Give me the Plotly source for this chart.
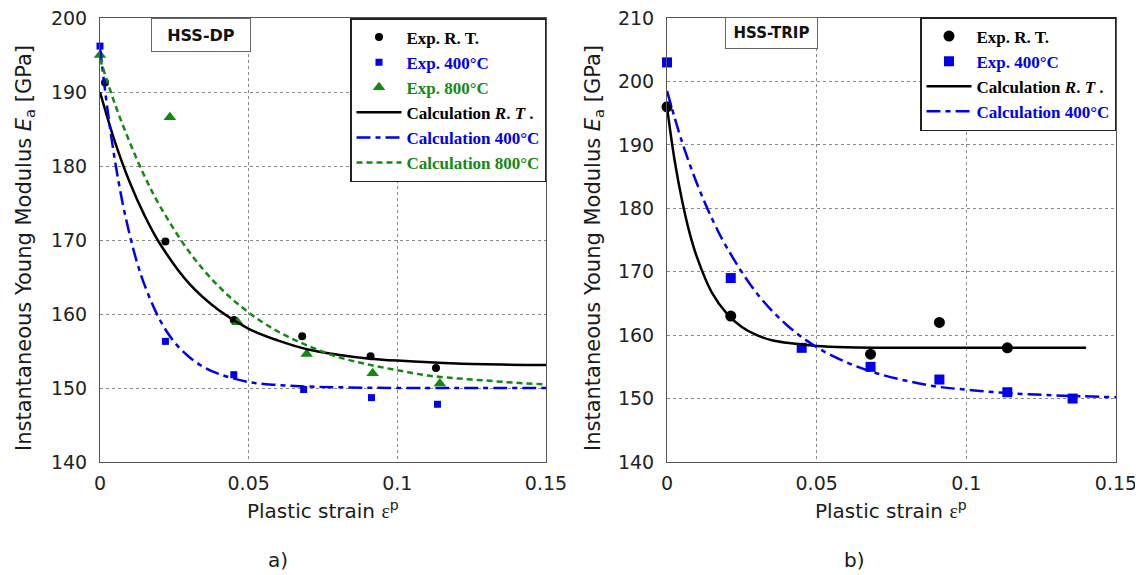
import plotly.graph_objects as go

# ---------------- data: panel a) HSS-DP ----------------
dp_rt_x = [0.0017, 0.022, 0.045, 0.068, 0.091, 0.113]
dp_rt_y = [191.3, 169.8, 159.2, 157.0, 154.3, 152.7]
dp_400_x = [0.0, 0.022, 0.045, 0.0685, 0.0913, 0.1135]
dp_400_y = [196.2, 156.3, 151.8, 149.8, 148.7, 147.8]
dp_800_x = [0.0, 0.0235, 0.0463, 0.0695, 0.0917, 0.1143]
dp_800_y = [195.0, 186.6, 158.9, 154.6, 152.0, 150.6]

dp_calc_rt_x = [0, 0.005, 0.01, 0.015, 0.02, 0.03, 0.04, 0.05, 0.06, 0.07, 0.08, 0.09, 0.10, 0.12, 0.15]
dp_calc_rt_y = [190.0, 183.3, 177.8, 173.3, 169.6, 164.1, 160.5, 158.0, 156.4, 155.2, 154.5, 154.0, 153.7, 153.3, 153.1]
dp_calc_400_x = [0, 0.0025, 0.005, 0.0075, 0.01, 0.0125, 0.015, 0.02, 0.025, 0.03, 0.035, 0.04, 0.05, 0.06, 0.07, 0.08, 0.10, 0.15]
dp_calc_400_y = [196.0, 187.7, 180.8, 175.2, 170.7, 166.9, 163.9, 159.3, 156.2, 154.2, 152.8, 151.9, 150.8, 150.4, 150.2, 150.1, 150.0, 150.0]
dp_calc_800_x = [0, 0.005, 0.01, 0.015, 0.02, 0.03, 0.04, 0.05, 0.06, 0.07, 0.08, 0.09, 0.10, 0.11, 0.12, 0.13, 0.14, 0.15]
dp_calc_800_y = [194.5, 188.4, 183.2, 178.6, 174.7, 168.4, 163.7, 160.2, 157.6, 155.7, 154.2, 153.2, 152.4, 151.7, 151.3, 151.0, 150.7, 150.5]

# ---------------- data: panel b) HSS-TRIP ----------------
trip_rt_x = [0.0, 0.0213, 0.068, 0.091, 0.1137]
trip_rt_y = [196.0, 163.0, 157.0, 162.0, 158.0]
trip_400_x = [0.0, 0.0213, 0.045, 0.068, 0.091, 0.1137, 0.1355]
trip_400_y = [203.0, 169.0, 158.0, 155.0, 153.0, 151.0, 150.0]

trip_calc_rt_x = [0, 0.0025, 0.005, 0.0075, 0.01, 0.015, 0.02, 0.025, 0.03, 0.035, 0.04, 0.05, 0.06, 0.08, 0.10, 0.12, 0.14]
trip_calc_rt_y = [196.0, 187.7, 181.3, 176.2, 172.3, 166.7, 163.4, 161.3, 160.0, 159.2, 158.8, 158.3, 158.1, 158.0, 158.0, 158.0, 158.0]
trip_calc_400_x = [0, 0.005, 0.01, 0.015, 0.02, 0.03, 0.04, 0.05, 0.06, 0.07, 0.08, 0.09, 0.10, 0.11, 0.12, 0.13, 0.15]
trip_calc_400_y = [198.5, 190.5, 183.9, 178.4, 173.8, 166.6, 161.6, 158.1, 155.7, 154.0, 152.8, 151.9, 151.4, 151.0, 150.7, 150.5, 150.2]

x_ticks = [0, 0.05, 0.1, 0.15]
x_tick_text = ["0", "0.05", "0.1", "0.15"]

BLACK = "#000000"
BLUE = "#0000ee"
GREEN = "#128a12"
SANS = "DejaVu Sans"
SERIF = "Liberation Serif"

def lg(text, color):
    return f"<span style='color:{color}'><b>{text}</b></span>"

fig = go.Figure()

# panel a
fig.add_trace(go.Scatter(x=dp_rt_x, y=dp_rt_y, mode="markers", name=lg("Exp. R. T.", BLACK),
                         marker=dict(symbol="circle", size=8, color=BLACK), cliponaxis=False,
                         xaxis="x", yaxis="y", legend="legend"))
fig.add_trace(go.Scatter(x=dp_400_x, y=dp_400_y, mode="markers", name=lg("Exp. 400°C", BLUE),
                         marker=dict(symbol="square", size=7, color=BLUE), cliponaxis=False,
                         xaxis="x", yaxis="y", legend="legend"))
fig.add_trace(go.Scatter(x=dp_800_x, y=dp_800_y, mode="markers", name=lg("Exp. 800°C", GREEN),
                         marker=dict(symbol="triangle-up", size=11, color=GREEN), cliponaxis=False,
                         xaxis="x", yaxis="y", legend="legend"))
fig.add_trace(go.Scatter(x=dp_calc_rt_x, y=dp_calc_rt_y, mode="lines", line_shape="spline",
                         name=lg("Calculation <i>R</i>. <i>T</i> .", BLACK),
                         line=dict(color=BLACK, width=2.5), xaxis="x", yaxis="y", legend="legend"))
fig.add_trace(go.Scatter(x=dp_calc_400_x, y=dp_calc_400_y, mode="lines", line_shape="spline",
                         name=lg("Calculation 400°C", BLUE),
                         line=dict(color=BLUE, width=2.5, dash="14px,5px,5px,5px"),
                         xaxis="x", yaxis="y", legend="legend"))
fig.add_trace(go.Scatter(x=dp_calc_800_x, y=dp_calc_800_y, mode="lines", line_shape="spline",
                         name=lg("Calculation 800°C", GREEN),
                         line=dict(color=GREEN, width=2.5, dash="6px,4px"),
                         xaxis="x", yaxis="y", legend="legend"))

# panel b
fig.add_trace(go.Scatter(x=trip_rt_x, y=trip_rt_y, mode="markers", name=lg("Exp. R. T.", BLACK),
                         marker=dict(symbol="circle", size=11, color=BLACK), cliponaxis=False,
                         xaxis="x2", yaxis="y2", legend="legend2"))
fig.add_trace(go.Scatter(x=trip_400_x, y=trip_400_y, mode="markers", name=lg("Exp. 400°C", BLUE),
                         marker=dict(symbol="square", size=10, color=BLUE), cliponaxis=False,
                         xaxis="x2", yaxis="y2", legend="legend2"))
fig.add_trace(go.Scatter(x=trip_calc_rt_x, y=trip_calc_rt_y, mode="lines", line_shape="spline",
                         name=lg("Calculation <i>R</i>. <i>T</i> .", BLACK),
                         line=dict(color=BLACK, width=2.5), xaxis="x2", yaxis="y2", legend="legend2"))
fig.add_trace(go.Scatter(x=trip_calc_400_x, y=trip_calc_400_y, mode="lines", line_shape="spline",
                         name=lg("Calculation 400°C", BLUE),
                         line=dict(color=BLUE, width=2.5, dash="14px,5px,5px,5px"),
                         xaxis="x2", yaxis="y2", legend="legend2"))

W, H = 1143, 575
OFF = 8  # page body margin offset
def px(x):
    return (x - OFF) / W
def py(y):
    return 1 - (y - OFF) / H

ydom = [py(462), py(18)]

axis_common = dict(showgrid=True, gridcolor="#8a8a8a", griddash="dot", gridwidth=1,
                   showline=True, mirror=True, linecolor="#555555", linewidth=1,
                   ticks="", zeroline=False, automargin=False, ticklabeloverflow="allow",
                   tickfont=dict(family=SANS, size=19, color="#222222"))

fig.update_layout(
    width=W, height=H,
    margin=dict(l=0, r=0, t=0, b=0, pad=0, autoexpand=False),
    paper_bgcolor="white", plot_bgcolor="white",
    xaxis=dict(domain=[px(100), px(546)], range=[0, 0.15], tickvals=x_ticks, ticktext=x_tick_text,
               anchor="y", ticklabelstandoff=4, **axis_common),
    yaxis=dict(domain=ydom, range=[140, 200], dtick=10, anchor="x", ticklabelstandoff=8, **axis_common),
    xaxis2=dict(domain=[px(667), px(1116)], range=[0, 0.15], tickvals=x_ticks, ticktext=x_tick_text,
                anchor="y2", ticklabelstandoff=4, **axis_common),
    yaxis2=dict(domain=ydom, range=[140, 210], dtick=10, anchor="x2", ticklabelstandoff=8, **axis_common),
    legend=dict(x=px(546), y=py(18), xanchor="right", yanchor="top",
                bgcolor="white", bordercolor="#222222", borderwidth=1.5,
                font=dict(family=SERIF, size=17, color="black"), itemwidth=45,
                tracegroupgap=0),
    legend2=dict(x=px(1116), y=py(17), xanchor="right", yanchor="top",
                 bgcolor="white", bordercolor="#222222", borderwidth=1.5,
                 font=dict(family=SERIF, size=17, color="black"), itemwidth=45,
                 tracegroupgap=0),
    showlegend=True,
)

ytitle = "Instantaneous Young Modulus <i>E</i><sub>a</sub> [GPa]"
xtitle = f"Plastic strain <span style='font-family:{SERIF}'>ε</span><sup>p</sup>"
tfont = dict(family=SANS, size=20, color="#1a1a1a")
yfont = dict(family=SANS, size=21, color="#1a1a1a")

annots = [
    dict(x=px(25), y=py(248), text=ytitle, textangle=-90, font=yfont),
    dict(x=px(594), y=py(248), text=ytitle, textangle=-90, font=yfont),
    dict(x=px(323), y=py(510), text=xtitle, font=tfont),
    dict(x=px(891), y=py(510), text=xtitle, font=tfont),
    dict(x=px(278), y=py(560), text="a)", font=tfont),
    dict(x=px(854), y=py(560), text="b)", font=tfont),
    dict(x=px(201), y=py(18), yanchor="top", text="<b>HSS-DP</b>", width=96, height=30,
         bordercolor="#666666", borderwidth=1, bgcolor="white",
         font=dict(family=SANS, size=16, color="#111111")),
    dict(x=px(771.5), y=py(17), yanchor="top", text="<b>HSS-TRIP</b>", width=89, height=28,
         bordercolor="#666666", borderwidth=1, bgcolor="white",
         font=dict(family=SANS, size=15, color="#111111")),
]
for a in annots:
    a.setdefault("xref", "paper")
    a.setdefault("yref", "paper")
    a.setdefault("xanchor", "center")
    a.setdefault("yanchor", "middle")
    a.setdefault("showarrow", False)
    fig.add_annotation(**a)

fig.write_html("out.html")
